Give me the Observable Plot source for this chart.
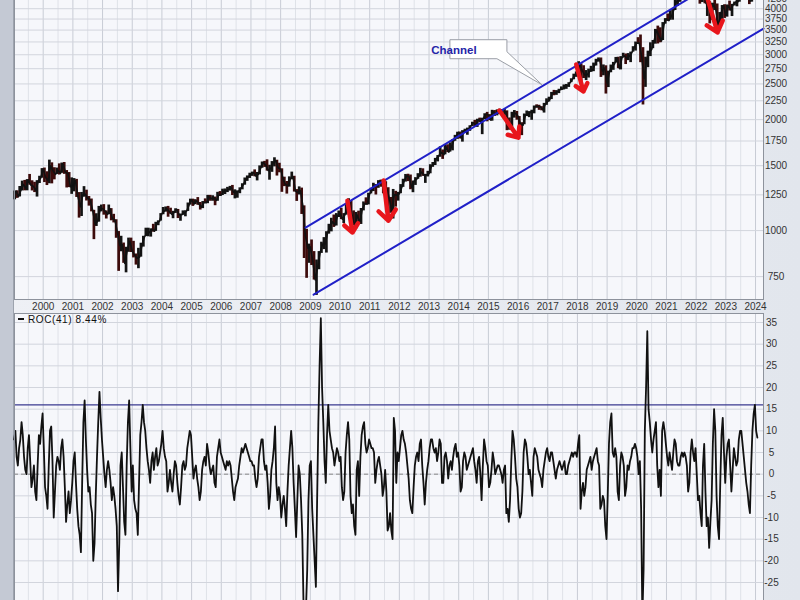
<!DOCTYPE html>
<html><head><meta charset="utf-8">
<script src="https://cdn.jsdelivr.net/npm/d3@7"></script>
<script src="https://cdn.jsdelivr.net/npm/@observablehq/plot@0.6"></script>
<style>
html,body{margin:0;padding:0;width:800px;height:600px;overflow:hidden;background:#e8ebf1;font-family:"Liberation Sans",Arial,sans-serif;}
#wrap{position:relative;width:800px;height:600px;overflow:hidden;background:linear-gradient(90deg,#eef0f5,#e2e6ed);}
#strip{position:absolute;left:0;top:0;width:13px;height:600px;background:#c4c9d4;border-right:1px solid #9da3ae;}
#top{position:absolute;left:0;top:-40px;}
#bot{position:absolute;left:0;top:313px;}
#leg{position:absolute;left:18px;top:313px;height:12px;display:flex;align-items:center;font-size:10px;letter-spacing:0.6px;color:#111;}
#dash{display:inline-block;width:6px;height:2px;background:#111;margin-right:4px;}
</style></head>
<body><div id="wrap"><div id="strip"></div><div id="top"></div><div id="bot"></div><div id="leg"><span id="dash"></span><span id="legtxt"></span></div></div>
<script>
// ---------- data (monthly, starting Jan 1999) ----------
const startYear = 1999;
const priceClose = [
1279,1238,1286,1335,1301,1373,1329,1320,1283,1363,1389,1469,
1394,1366,1499,1452,1421,1455,1431,1518,1437,1429,1315,1320,
1366,1240,1160,1249,1256,1224,1211,1134,1041,1060,1139,1148,
1130,1107,1147,1077,1067,990,912,916,815,886,936,880,
856,841,848,917,964,975,990,1008,996,1051,1058,1112,
1131,1145,1126,1107,1121,1141,1102,1104,1115,1130,1174,1212,
1181,1204,1181,1157,1192,1191,1234,1220,1229,1207,1249,1248,
1280,1281,1295,1311,1270,1270,1277,1304,1336,1378,1401,1418,
1438,1407,1421,1482,1531,1503,1455,1474,1527,1549,1481,1468,
1379,1331,1323,1386,1400,1280,1267,1283,1165,969,896,903,
826,735,798,873,919,919,987,1021,1057,1036,1096,1115,
1074,1104,1169,1187,1089,1031,1102,1049,1141,1183,1181,1258,
1286,1327,1326,1364,1345,1321,1292,1219,1131,1253,1247,1258,
1312,1366,1408,1398,1310,1362,1379,1407,1441,1412,1416,1426,
1498,1515,1569,1598,1631,1606,1686,1633,1682,1757,1806,1848,
1783,1859,1872,1884,1924,1960,1931,2003,1972,2018,2068,2059,
1995,2105,2068,2086,2107,2063,2104,1972,1920,2079,2080,2044,
1940,1932,2060,2065,2097,2099,2174,2171,2168,2126,2199,2239,
2279,2364,2363,2384,2412,2423,2470,2472,2519,2575,2648,2674,
2824,2714,2641,2648,2705,2718,2816,2902,2914,2712,2760,2507,
2704,2784,2834,2946,2752,2942,2980,2926,2977,3038,3141,3231,
3226,2954,2585,2912,3044,3100,3271,3500,3363,3270,3622,3756,
3714,3811,3973,4181,4204,4298,4395,4523,4308,4605,4567,4766,
4516,4374,4530,4132,4132,3785,4130,3955,3586,3872,4080,3840,
4077,3970,4109,4169,4180,4450,4589,4508,4288,4194,4568,4770,
4846];
const priceHigh = [
1280,1282,1317,1362,1368,1375,1420,1365,1352,1366,1404,1473,
1478,1444,1553,1527,1481,1478,1517,1525,1530,1455,1437,1390,
1384,1377,1268,1269,1316,1287,1237,1218,1135,1111,1163,1173,
1176,1131,1173,1147,1107,1070,994,965,925,901,954,954,
935,864,895,924,965,1015,1015,1011,1040,1053,1063,1112,
1155,1159,1163,1150,1128,1146,1141,1109,1131,1132,1188,1217,
1217,1213,1229,1192,1199,1219,1246,1246,1243,1233,1270,1276,
1295,1297,1310,1318,1326,1290,1282,1306,1340,1389,1407,1431,
1441,1461,1438,1498,1535,1541,1556,1504,1539,1576,1552,1523,
1471,1396,1359,1399,1441,1404,1292,1314,1304,1167,1008,919,
943,877,832,877,930,957,993,1040,1080,1102,1112,1130,
1150,1112,1180,1220,1205,1131,1120,1129,1148,1196,1227,1263,
1303,1344,1333,1366,1371,1346,1357,1307,1230,1293,1278,1270,
1333,1378,1420,1422,1415,1363,1392,1427,1475,1471,1421,1448,
1509,1530,1570,1598,1688,1655,1709,1709,1730,1765,1813,1849,
1851,1867,1884,1897,1925,1968,1991,2005,2019,2018,2075,2093,
2064,2120,2117,2126,2135,2130,2133,2113,2021,2094,2117,2105,
2039,1962,2072,2111,2103,2121,2178,2194,2188,2169,2214,2278,
2301,2371,2401,2398,2418,2454,2484,2491,2519,2582,2657,2695,
2873,2835,2801,2718,2742,2791,2848,2916,2941,2940,2815,2800,
2708,2813,2860,2950,2954,2965,3028,3014,3022,3050,3155,3248,
3338,3394,3136,2954,3068,3233,3280,3515,3588,3550,3668,3760,
3870,3950,3994,4218,4238,4302,4429,4537,4546,4608,4744,4808,
4819,4595,4637,4593,4307,4177,4140,4325,4120,3905,4080,4101,
4095,4195,4110,4170,4232,4448,4607,4584,4541,4393,4587,4793,
4932];
const priceLow = [
1212,1223,1234,1281,1282,1282,1328,1281,1268,1233,1342,1387,
1350,1325,1340,1339,1373,1420,1415,1430,1421,1305,1308,1254,
1274,1230,1081,1092,1232,1203,1165,1124,945,1026,1054,1124,
1101,1075,1104,1063,1049,953,775,876,815,768,873,872,
843,806,788,847,902,965,962,960,990,995,1031,1061,
1104,1122,1087,1107,1077,1113,1078,1060,1101,1090,1127,1173,
1163,1176,1171,1137,1147,1187,1183,1201,1201,1168,1201,1245,
1245,1253,1268,1280,1245,1219,1224,1259,1290,1328,1360,1385,
1403,1399,1364,1416,1476,1484,1450,1370,1439,1489,1406,1435,
1270,1316,1256,1312,1373,1272,1200,1249,1106,840,742,815,
804,734,667,783,867,888,869,978,992,1020,1029,1085,
1071,1045,1101,1170,1040,1029,1011,1040,1039,1131,1173,1174,
1257,1276,1249,1302,1311,1258,1283,1074,1114,1075,1158,1202,
1259,1310,1354,1358,1291,1267,1326,1378,1396,1403,1343,1398,
1426,1485,1502,1536,1581,1560,1605,1627,1633,1646,1747,1768,
1773,1738,1834,1814,1859,1915,1916,1905,1964,1821,2001,1973,
1988,1981,2040,2048,2068,2056,2044,1867,1872,1893,2019,1993,
1812,1810,1937,2039,2025,1992,2074,2147,2120,2114,2084,2187,
2233,2267,2322,2328,2353,2405,2408,2417,2446,2520,2566,2605,
2683,2533,2586,2553,2594,2691,2699,2796,2864,2604,2631,2347,
2444,2681,2722,2848,2751,2729,2952,2822,2892,2856,3050,3070,
3214,2855,2192,2447,2767,2966,3116,3205,3209,3233,3279,3633,
3694,3725,3723,3955,4056,4164,4233,4367,4306,4279,4560,4495,
4223,4115,4157,4124,3811,3637,3721,3954,3585,3491,3699,3764,
3795,3943,3809,4069,4048,4166,4385,4335,4238,4104,4167,4546,
4682];
// ROC(41), two readings per month starting Jan 1999
const rocValues = [
8,10,4,2,6,8,12,9,4,1,0,6,9,3,-3,-1,2,-4,-6,2,9,7,11,14,
6,-3,-5,-8,2,10,11,3,-10,-4,2,4,3,1,6,8,4,-3,-11,-7,-4,-9,-6,-2,
3,5,-2,-8,-12,-14,-18,-2,12,17,8,1,-4,-3,-7,-9,-20,-16,-5,4,12,19,13,8,
4,0,-3,1,3,1,-2,-6,-3,-5,-8,-12,-27,-16,2,5,-3,-11,-14,2,12,17,6,-4,
2,-6,-8,-9,-14,-2,9,12,16,12,10,6,3,1,-2,3,5,1,4,6,2,3,5,7,
10,6,4,3,-4,-2,1,-2,-4,0,3,2,-2,-5,-7,-3,2,3,1,2,6,8,10,9,
4,-1,1,2,-1,-3,-6,-4,1,3,4,2,7,5,2,0,1,2,-2,-3,4,6,8,5,
4,3,2,1,3,2,3,2,-1,-4,-6,-3,-2,-1,2,4,6,5,6,7,6,5,4,3,
3,2,2,-1,-3,-1,4,6,8,8,3,1,2,-2,-8,-5,1,3,6,11,-2,-6,-3,-5,
-10,-7,-5,-8,-12,-4,2,6,10,6,-2,-8,-14.5,-6,2,0,-6,-14,-30,-33,-31,-22,-6,2,
3,-8,-14,-20,-26,-6,12,25,36,20,12,3,-2,9,16,10,8,6,5,2,4,6,5,3,
4,-3,-6,-4,5,9,12,8,-5,-9,-7,-12,-14,1,3,-5,4,9,11,12,7,5,6,8,
7,6,6,5,-2,1,3,4,2,0,-5,-3,1,-4,-13,-12,-9,-13,-15,13,10,-2,5,3,
6,9,10,8,7,5,2,-1,-6,-8,-9,-3,2,4,5,3,7,8,2,-2,-7,-2,1,3,
6,8,8,6,5,6,3,5,8,7,-2,-2,4,5,3,-1,2,3,1,4,6,7,4,5,
2,-4,-3,3,5,4,1,2,3,4,5,6,3,1,-2,3,4,0,-6,2,8,6,3,2,
-3,-2,1,5,3,0,1,2,2,1,0,-2,1,2,-9,-8,-11,-6,3,10,8,4,-1,-3,
-8,-10,-9,-4,5,8,7,4,0,1,-2,-5,4,6,5,4,1,0,-1,-3,1,3,5,6,
4,3,5,5,3,1,-1,1,2,3,2,1,2,3,0,0,2,3,4,5,4,5,5,4,
7,9,-8,-4,-2,-5,-3,1,2,3,4,1,3,4,5,6,3,2,-8,-7,-5,-6,-12,-15,
-5,7,12,14,5,4,6,4,-4,-6,2,5,4,2,-5,-3,2,1,3,4,6,6,7,6,
4,0,3,-8,-33,-22,10,20,33,15,12,8,5,8,10,12,2,-3,1,-5,10,12,10,7,
4,2,5,3,1,5,8,7,3,2,2,4,5,4,5,4,2,-4,-2,5,8,5,3,6,
0,-6,-5,-9,-12,2,7,-4,-12,-10,-17,-11,-6,7,15,10,-5,-12,-15,-2,9,13,5,-2,
4,7,8,2,-4,1,6,4,2,3,8,10,10,7,4,1,-2,-4,-7,-9,2,10,14,16,
10,8.44];
const yearTicks = d3.range(2000, 2025);
const halfYearLines = d3.range(1999.5, 2024.5, 1);
const priceTicks = [750,1000,1250,1500,1750,2000,2250,2500,2750,3000,3250,3500,3750,4000,4250];
const rocGrid = [-30,-25,-20,-15,-10,-5,0,5,10,15,20,25,30,35];
const rocTickLabels = [-25,-20,-15,-10,-5,0,5,10,15,20,25,30,35];
const rocLevel = 16;
const rocLabel = "ROC(41) 8.44%";
const channelUpper = [{year: 2008.84, value: 1019}, {year: 2022.3, value: 4528}];
const channelLower = [{year: 2009.11, value: 670}, {year: 2024.27, value: 3534}];
const arrowsData = [
  {x1: 2010.25, y1: 1206, x2: 2010.42, y2: 988},
  {x1: 2011.47, y1: 1367, x2: 2011.63, y2: 1064},
  {x1: 2015.37, y1: 2117, x2: 2016.01, y2: 1788},
  {x1: 2017.96, y1: 2822, x2: 2018.20, y2: 2384},
  {x1: 2022.35, y1: 4345, x2: 2022.72, y2: 3448}
];
const callout = {label: "Channel", year: 2016.82, value: 2480};

// ---------- derived tables ----------
const xDomain = [1999.033, 2024.269];
const months = priceClose.map((c, i) => ({
  t: startYear + (i + 0.5) / 12,
  tc: startYear + (i + 1) / 12,
  close: c, high: priceHigh[i], low: priceLow[i],
  down: i > 0 && c < priceClose[i - 1]
}));
const roc = rocValues.map((v, i) => ({t: startYear + i / 24 + 1 / 48, v}));
const fontFam = '"Liberation Sans", Arial, sans-serif';

const topPlot = Plot.plot({
  width: 800, height: 353,
  marginLeft: 14, marginRight: 37, marginTop: 0, marginBottom: 14,
  style: {background: "transparent", fontFamily: fontFam, fontSize: "10px", color: "#333"},
  x: {domain: xDomain},
  y: {type: "log", domain: [650.1, 5406]},
  marks: [
    Plot.frame({fill: "#f6f7fb", stroke: "none"}),
    Plot.ruleX(halfYearLines, {stroke: "#dfe2e8"}),
    Plot.ruleX(yearTicks, {stroke: "#c8ccd5"}),
    Plot.ruleY(priceTicks, {stroke: "#d2d5dd"}),
    Plot.ruleX(months.filter(d => !d.down), {x: "t", y1: "low", y2: "high", stroke: "#141414", strokeWidth: 2.7}),
    Plot.ruleX(months.filter(d => d.down), {x: "t", y1: "low", y2: "high", stroke: "#3c0b0b", strokeWidth: 2.7}),
    Plot.line(months, {x: "tc", y: "close", stroke: "#111", strokeWidth: 1.6}),
    Plot.line(channelUpper, {x: "year", y: "value", stroke: "#2020c8", strokeWidth: 2}),
    Plot.line(channelLower, {x: "year", y: "value", stroke: "#2020c8", strokeWidth: 2}),
    Plot.arrow(arrowsData, {x1: "x1", y1: "y1", x2: "x2", y2: "y2", stroke: "#e8161c", strokeWidth: 4.5, headLength: 10, headAngle: 80}),
    Plot.frame({stroke: "#8d929c"}),
    Plot.axisX({ticks: yearTicks, tickSize: 0, tickPadding: 3, tickFormat: d => String(d), label: null}),
    Plot.axisY({anchor: "right", ticks: priceTicks, tickSize: 0, tickPadding: 0, textAnchor: "middle", dx: 12.5, tickFormat: d => String(d), label: null})
  ]
});
document.getElementById("top").appendChild(topPlot);

// callout bubble placed through the plot's scales
{
  const sx = topPlot.scale("x"), sy = topPlot.scale("y");
  const tx = sx.apply(callout.year), ty = sy.apply(callout.value);
  const left = tx - 92, right = tx - 35, top = ty - 45, bottom = ty - 26;
  const g = d3.select(topPlot).append("g");
  g.append("path")
    .attr("d", `M${left},${top}H${right}V${bottom - 7}L${tx},${ty}L${right - 10},${bottom}H${left}Z`)
    .attr("fill", "#ffffff").attr("stroke", "#9a9ea6").attr("stroke-width", 1);
  g.append("text").attr("x", left + 4).attr("y", bottom - 5)
    .attr("font-family", fontFam).attr("font-size", 11.5).attr("font-weight", "bold")
    .attr("fill", "#2424a8").text(callout.label);
}

const botPlot = Plot.plot({
  width: 800, height: 300,
  marginLeft: 14, marginRight: 37, marginTop: 0, marginBottom: 0,
  style: {background: "transparent", fontFamily: fontFam, fontSize: "10px", color: "#333"},
  x: {domain: xDomain, axis: null},
  y: {domain: [-32.15, 37.08]},
  marks: [
    Plot.frame({fill: "#f6f7fb", stroke: "none"}),
    Plot.ruleX(halfYearLines, {stroke: "#dfe2e8"}),
    Plot.ruleX(yearTicks, {stroke: "#c8ccd5"}),
    Plot.ruleY(rocGrid, {stroke: "#d2d5dd"}),
    Plot.ruleY([0], {stroke: "#8a8a8a", strokeDasharray: "4,3"}),
    Plot.ruleY([rocLevel], {stroke: "#3a3a90", strokeWidth: 1.2}),
    Plot.line(roc, {x: "t", y: "v", stroke: "#111", strokeWidth: 1.8}),
    Plot.frame({stroke: "#8d929c"}),
    Plot.axisY({anchor: "right", ticks: rocTickLabels, tickSize: 0, tickPadding: 0, textAnchor: "middle", dx: 8, tickFormat: d => String(d), label: null})
  ]
});
document.getElementById("bot").appendChild(botPlot);
document.getElementById("legtxt").textContent = rocLabel;
</script></body></html>
